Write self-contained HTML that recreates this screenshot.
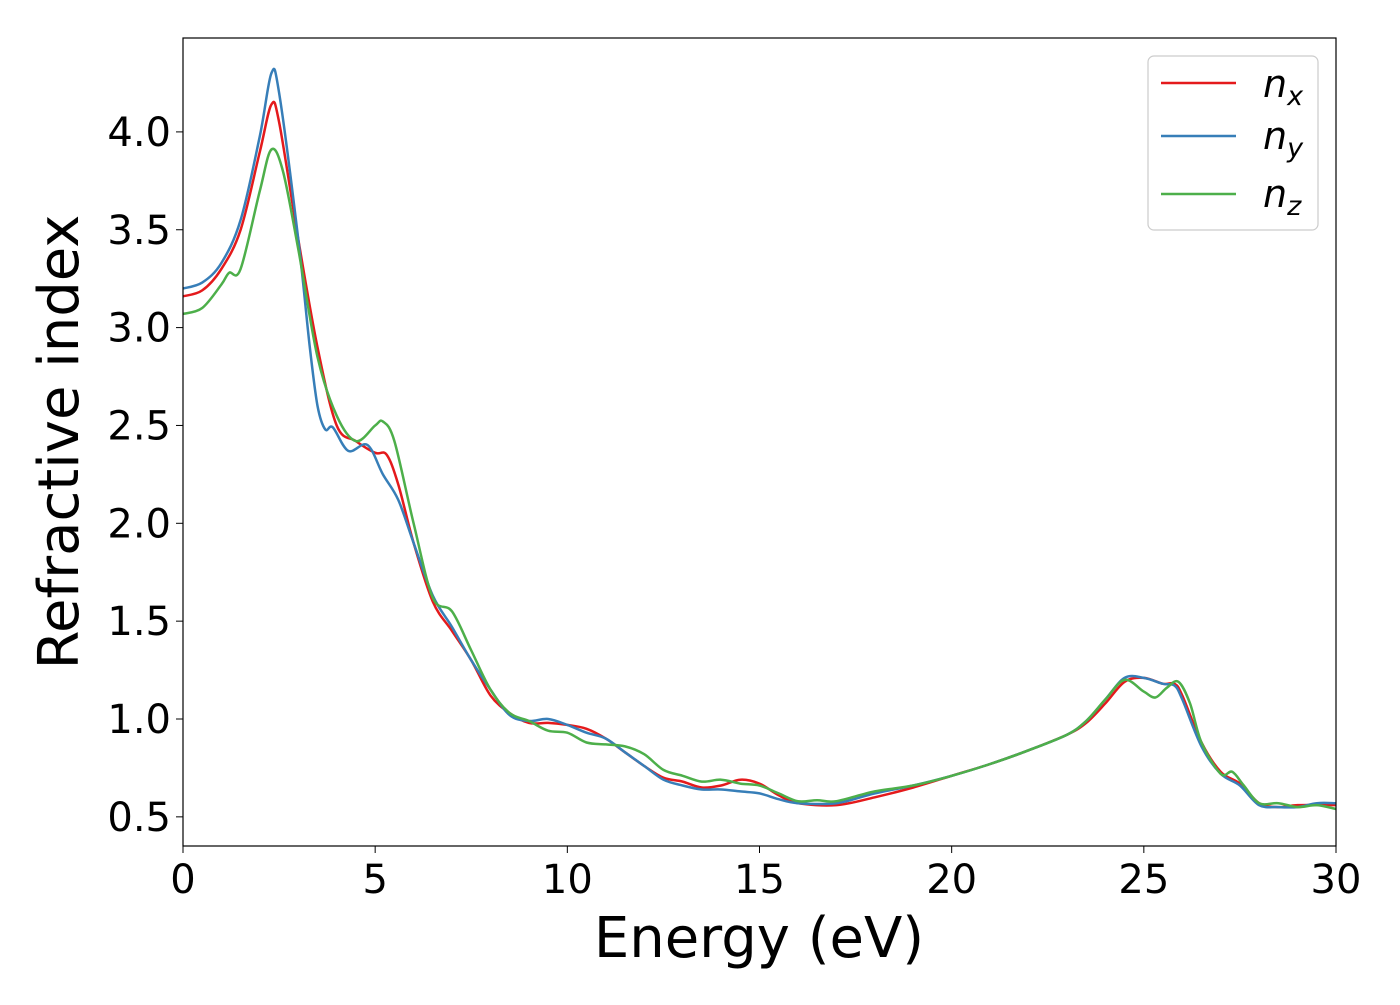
<!DOCTYPE html>
<html><head><meta charset="utf-8"><style>
html,body{margin:0;padding:0;background:#fff;}
svg text{font-family:"DejaVu Sans","Liberation Sans",sans-serif;fill:#000;}
</style></head><body>
<svg id="chart" width="1400" height="1000" xmlns="http://www.w3.org/2000/svg">
<g id="lines"></g>
<rect x="183" y="38" width="1153" height="808" fill="none" stroke="#000" stroke-width="1.2"/>
<g id="ticks"></g>
<text x="759" y="957" font-size="56" text-anchor="middle">Energy (eV)</text>
<text transform="translate(78,442) rotate(-90)" font-size="56" text-anchor="middle">Refractive index</text>
<g>
<rect x="1148" y="56" width="170" height="174" rx="6" fill="#fff" stroke="#ccc" stroke-width="1.2"/>
<line x1="1161" y1="83" x2="1236" y2="83" stroke="#e41a1c" stroke-width="2.5"/>
<line x1="1161" y1="136" x2="1236" y2="136" stroke="#377eb8" stroke-width="2.5"/>
<line x1="1161" y1="194" x2="1236" y2="194" stroke="#4daf4a" stroke-width="2.5"/>
<text x="1263" y="97" font-size="38" font-style="italic">n<tspan font-size="27" dy="8">x</tspan></text>
<text x="1263" y="149" font-size="38" font-style="italic">n<tspan font-size="27" dy="8">y</tspan></text>
<text x="1263" y="207" font-size="38" font-style="italic">n<tspan font-size="27" dy="8">z</tspan></text>
</g>
</svg>
<script>
const xTicks=[0,5,10,15,20,25,30];
const yTicks=[0.5,1.0,1.5,2.0,2.5,3.0,3.5,4.0];
const yTickLabels=["0.5","1.0","1.5","2.0","2.5","3.0","3.5","4.0"];
const nxE=[0,0.5,1,1.5,2,2.3,2.5,3,3.5,4,4.5,5,5.3,5.6,6,6.5,7,7.5,8,8.5,9,9.5,10,10.5,11,11.5,12,12.5,13,13.5,14,14.5,15,15.5,16,17,18,19,20,21,22,23,23.5,24,24.5,25,25.5,25.8,26,26.5,27,27.5,28,28.5,29,30];
const nxV=[3.16,3.19,3.3,3.5,3.9,4.14,4.05,3.45,2.9,2.5,2.42,2.36,2.35,2.2,1.9,1.6,1.45,1.3,1.12,1.03,0.98,0.98,0.97,0.95,0.9,0.83,0.76,0.7,0.68,0.65,0.66,0.69,0.67,0.61,0.57,0.56,0.6,0.65,0.71,0.77,0.84,0.92,0.98,1.08,1.19,1.21,1.18,1.18,1.12,0.88,0.73,0.67,0.57,0.55,0.56,0.56];
const nyE=[0,0.5,1,1.5,2,2.3,2.5,3,3.3,3.5,3.7,3.9,4.3,4.8,5.2,5.6,6,6.5,7,7.5,8,8.5,9,9.5,10,10.5,11,11.5,12,12.5,13,13.5,14,14.5,15,15.5,16,17,18,19,20,21,22,23,23.5,24,24.5,25,25.5,25.8,26,26.5,27,27.5,28,28.5,29,29.5,30];
const nyV=[3.2,3.23,3.33,3.55,3.98,4.3,4.2,3.45,2.9,2.6,2.48,2.49,2.37,2.4,2.25,2.12,1.9,1.63,1.47,1.3,1.15,1.02,0.99,1.0,0.97,0.93,0.9,0.83,0.76,0.69,0.66,0.64,0.64,0.63,0.62,0.59,0.57,0.57,0.62,0.66,0.71,0.77,0.84,0.92,0.99,1.1,1.21,1.21,1.18,1.17,1.1,0.86,0.72,0.66,0.56,0.55,0.55,0.57,0.57];
const nzE=[0,0.5,1,1.2,1.5,2,2.3,2.6,3,3.5,4,4.5,5,5.2,5.5,6,6.5,7,7.5,8,8.5,9,9.5,10,10.5,11,11.5,12,12.5,13,13.5,14,14.5,15,15.5,16,16.5,17,18,19,20,21,22,23,23.5,24,24.5,25,25.3,25.6,25.9,26.2,26.5,27,27.3,27.6,28,28.5,29,29.5,30];
const nzV=[3.07,3.1,3.22,3.28,3.3,3.7,3.91,3.8,3.4,2.85,2.55,2.42,2.5,2.52,2.42,2.0,1.62,1.55,1.35,1.15,1.03,0.99,0.94,0.93,0.88,0.87,0.86,0.82,0.74,0.71,0.68,0.69,0.67,0.66,0.62,0.58,0.585,0.58,0.63,0.66,0.71,0.77,0.84,0.92,0.99,1.1,1.2,1.14,1.11,1.16,1.19,1.08,0.88,0.72,0.73,0.66,0.57,0.57,0.55,0.56,0.54];
const NS="http://www.w3.org/2000/svg";
const X=v=>183+v*(1153/30);
const Y=v=>719-(v-1.0)*195.7;
function path(xs,ys){
  const p=xs.map((x,i)=>[X(x),Y(ys[i])]);
  let d="M"+p[0][0].toFixed(1)+","+p[0][1].toFixed(1);
  for(let i=0;i<p.length-1;i++){
    const p0=p[Math.max(0,i-1)],p1=p[i],p2=p[i+1],p3=p[Math.min(p.length-1,i+2)];
    const c1=[p1[0]+(p2[0]-p0[0])/6,p1[1]+(p2[1]-p0[1])/6];
    const c2=[p2[0]-(p3[0]-p1[0])/6,p2[1]-(p3[1]-p1[1])/6];
    d+=" C"+c1.map(v=>v.toFixed(1))+" "+c2.map(v=>v.toFixed(1))+" "+p2.map(v=>v.toFixed(1));
  }
  return d;
}
const lines=document.getElementById("lines");
[[nxE,nxV,"#e41a1c","series-nx"],[nyE,nyV,"#377eb8","series-ny"],[nzE,nzV,"#4daf4a","series-nz"]].forEach(s=>{
  const el=document.createElementNS(NS,"path");
  el.setAttribute("d",path(s[0],s[1]));
  el.setAttribute("fill","none");el.setAttribute("stroke",s[2]);el.setAttribute("stroke-width","2.5");
  
  
  lines.appendChild(el);
});
const ticks=document.getElementById("ticks");
xTicks.forEach(t=>{
  const l=document.createElementNS(NS,"line");
  l.setAttribute("x1",X(t));l.setAttribute("x2",X(t));l.setAttribute("y1",846);l.setAttribute("y2",853);l.setAttribute("stroke","#000");
  
  
  ticks.appendChild(l);
  const tx=document.createElementNS(NS,"text");
  tx.setAttribute("x",X(t));tx.setAttribute("y",893);tx.setAttribute("font-size","40");tx.setAttribute("text-anchor","middle");
  tx.textContent=String(t);
  
  
  ticks.appendChild(tx);
});
yTicks.forEach((t,i)=>{
  const l=document.createElementNS(NS,"line");
  l.setAttribute("x1",176);l.setAttribute("x2",183);l.setAttribute("y1",Y(t));l.setAttribute("y2",Y(t));l.setAttribute("stroke","#000");
  
  
  ticks.appendChild(l);
  const tx=document.createElementNS(NS,"text");
  tx.setAttribute("x",171);tx.setAttribute("y",Y(t)+14);tx.setAttribute("font-size","40");tx.setAttribute("text-anchor","end");
  tx.textContent=yTickLabels[i];
  
  
  ticks.appendChild(tx);
});
</script>
</body></html>
